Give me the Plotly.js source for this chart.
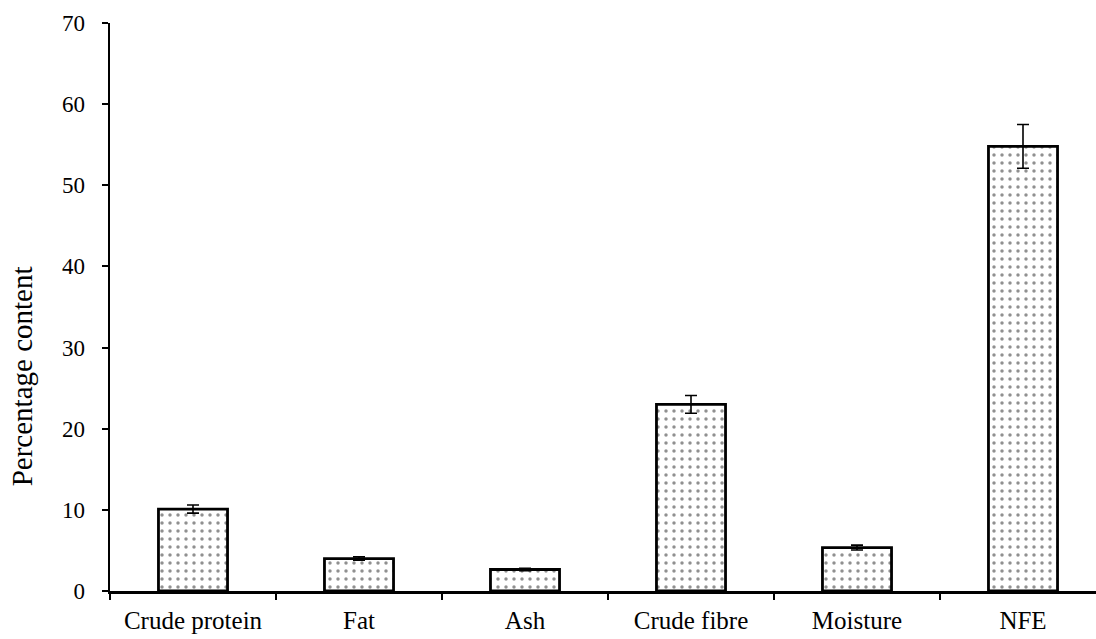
<!DOCTYPE html>
<html>
<head>
<meta charset="utf-8">
<script src="https://cdn.plot.ly/plotly-3.0.1.min.js"></script>
<style>
html, body { margin: 0; padding: 0; overflow: hidden; background: #fff; }
#chart { width: 1110px; height: 639px; }
</style>
</head>
<body>
<div id="chart"></div>
<script>
const categories = ["Crude protein", "Fat", "Ash", "Crude fibre", "Moisture", "NFE"];
const values = [10.1, 4.0, 2.65, 23.0, 5.35, 54.8];
const errors = [0.5, 0.2, 0.15, 1.1, 0.3, 2.7];
const yTicks = [0, 10, 20, 30, 40, 50, 60, 70];
const yTitle = "Percentage content";

const trace = {
  type: "bar",
  x: categories,
  y: values,
  error_y: { type: "data", array: errors, visible: true, color: "#000", thickness: 1.6, width: 6 },
  marker: {
    color: "#ffffff",
    line: { color: "#000", width: 2.8 },
    pattern: { shape: ".", size: 8, solidity: 0.15, fgcolor: "#222", bgcolor: "#ffffff", fillmode: "overlay" }
  },
  hoverinfo: "x+y"
};

const fam = "Liberation Serif, Times New Roman, serif";

const layout = {
  width: 1110,
  height: 639,
  margin: { l: 110, r: 4, t: 23, b: 48 },
  paper_bgcolor: "#fff",
  plot_bgcolor: "#fff",
  font: { family: fam, color: "#000", size: 22 },
  showlegend: false,
  bargap: 0.584,
  xaxis: {
    type: "category",
    showline: true,
    linecolor: "#000",
    linewidth: 2.5,
    ticks: "outside",
    tickson: "boundaries",
    ticklen: 6,
    tickwidth: 2,
    tickcolor: "#000",
    showgrid: false,
    zeroline: false,
    automargin: false,
    ticklabelstandoff: 5,
    tickfont: { family: fam, size: 25, color: "#000" }
  },
  yaxis: {
    range: [0, 70],
    tickvals: yTicks,
    ticktext: yTicks.map(String),
    showline: true,
    linecolor: "#000",
    linewidth: 2.5,
    ticks: "outside",
    ticklen: 6,
    tickwidth: 2,
    tickcolor: "#000",
    showgrid: false,
    zeroline: false,
    automargin: false,
    ticklabelstandoff: 12,
    tickfont: { family: fam, size: 23, color: "#000" }
  },
  annotations: [{
    text: yTitle,
    xref: "paper", yref: "paper",
    x: 0, xshift: -88, xanchor: "center",
    y: 0.378, yanchor: "middle",
    textangle: -90,
    showarrow: false,
    font: { family: fam, size: 29, color: "#000" }
  }]
};

Plotly.newPlot("chart", [trace], layout, { displayModeBar: false, staticPlot: true });
</script>
</body>
</html>
